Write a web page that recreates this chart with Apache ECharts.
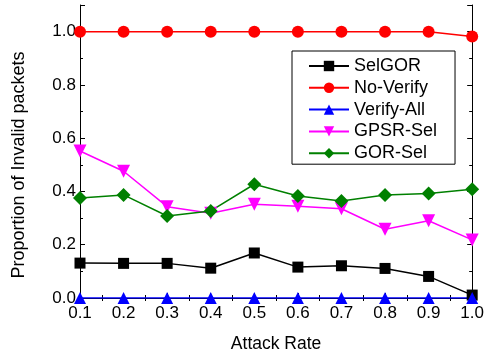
<!DOCTYPE html>
<html>
<head>
<meta charset="utf-8">
<script src="https://cdn.jsdelivr.net/npm/echarts@6/dist/echarts.min.js"></script>
<style>
  html, body { margin: 0; padding: 0; background: #fff; }
  #chart { width: 487px; height: 358px; }
</style>
</head>
<body>
<div id="chart"></div>
<script>
  // attack rate on x
  var rates = [0.1, 0.2, 0.3, 0.4, 0.5, 0.6, 0.7, 0.8, 0.9, 1.0];
  var selGOR = [0.131, 0.130, 0.130, 0.112, 0.169, 0.116, 0.121, 0.111, 0.081, 0.011];
  var noVerify = [1.0, 1.0, 1.0, 1.0, 1.0, 1.0, 1.0, 1.0, 1.0, 0.982];
  var verifyAll = [0, 0, 0, 0, 0, 0, 0, 0, 0, 0];
  var gpsrSel = [0.552, 0.476, 0.343, 0.318, 0.352, 0.344, 0.335, 0.258, 0.290, 0.218];
  var gorSel = [0.375, 0.387, 0.308, 0.327, 0.427, 0.383, 0.364, 0.387, 0.392, 0.408];

  function pairs(arr) {
    return rates.map(function (r, i) { return [r, arr[i]]; });
  }

  var font = "'Liberation Sans', Arial, sans-serif";
  var chart = echarts.init(document.getElementById('chart'));

  function mkSeries(name, data, color, symbol, size) {
    return {
      name: name,
      type: 'line',
      data: pairs(data),
      symbol: symbol,
      symbolSize: size,
      lineStyle: { color: color, width: 1.5 },
      itemStyle: { color: color },
      showAllSymbol: true,
      animation: false
    };
  }

  var axisLine = { show: true, lineStyle: { color: '#000', width: 1 } };
  var tick = { inside: true, length: 5, lineStyle: { color: '#000' } };
  var minor = { show: true, splitNumber: 2, length: 3, lineStyle: { color: '#000' } };

  chart.setOption({
    animation: false,
    grid: { left: 80, right: 12, top: 5, bottom: 59 },
    graphic: [{
      type: 'text',
      x: 19,
      y: 165,
      rotation: Math.PI / 2,
      style: {
        text: 'Proportion of Invalid packets',
        fontFamily: font,
        fontSize: 18,
        fill: '#000',
        align: 'center',
        verticalAlign: 'middle'
      }
    }],
    legend: {
      orient: 'vertical',
      left: 292,
      top: 51,
      itemWidth: 40,
      itemHeight: 13,
      itemGap: 3.8,
      padding: [6, 18, 2, 16],
      borderColor: '#000',
      borderWidth: 1,
      borderRadius: 0,
      backgroundColor: '#fff',
      textStyle: { fontFamily: font, fontSize: 18, color: '#000' },
      data: ['SelGOR', 'No-Verify', 'Verify-All', 'GPSR-Sel', 'GOR-Sel']
    },
    xAxis: [{
      type: 'value',
      min: 0.1,
      max: 1.0,
      interval: 0.1,
      name: 'Attack Rate',
      nameLocation: 'middle',
      nameGap: 37,
      nameTextStyle: { fontFamily: font, fontSize: 17.5, color: '#000' },
      axisLine: axisLine,
      axisTick: tick,
      minorTick: minor,
      splitLine: { show: false },
      axisLabel: {
        fontFamily: font, fontSize: 17, color: '#000', margin: 7,
        formatter: function (v) { return v.toFixed(1); }
      }
    }, {
      type: 'value',
      position: 'top',
      min: 0.1,
      max: 1.0,
      interval: 0.1,
      axisLine: axisLine,
      axisTick: tick,
      minorTick: minor,
      splitLine: { show: false },
      axisLabel: { show: false }
    }],
    yAxis: [{
      type: 'value',
      min: 0,
      max: 1.1,
      interval: 0.2,
      axisLine: axisLine,
      axisTick: tick,
      minorTick: minor,
      splitLine: { show: false },
      axisLabel: {
        fontFamily: font, fontSize: 17, color: '#000', margin: 4,
        formatter: function (v) { return v > 1.05 ? '' : v.toFixed(1); }
      }
    }, {
      type: 'value',
      position: 'right',
      min: 0,
      max: 1.1,
      interval: 0.2,
      axisLine: axisLine,
      axisTick: tick,
      minorTick: minor,
      splitLine: { show: false },
      axisLabel: { show: false }
    }],
    series: [
      mkSeries('SelGOR', selGOR, '#000000', 'rect', 11),
      mkSeries('No-Verify', noVerify, '#ff0000', 'circle', 12),
      mkSeries('Verify-All', verifyAll, '#0000ff', 'triangle', 12),
      mkSeries('GPSR-Sel', gpsrSel, '#ff00ff', 'path://M0,0 L10,0 L5,9 Z', 13),
      mkSeries('GOR-Sel', gorSel, '#008000', 'diamond', 14)
    ]
  });
</script>
</body>
</html>
